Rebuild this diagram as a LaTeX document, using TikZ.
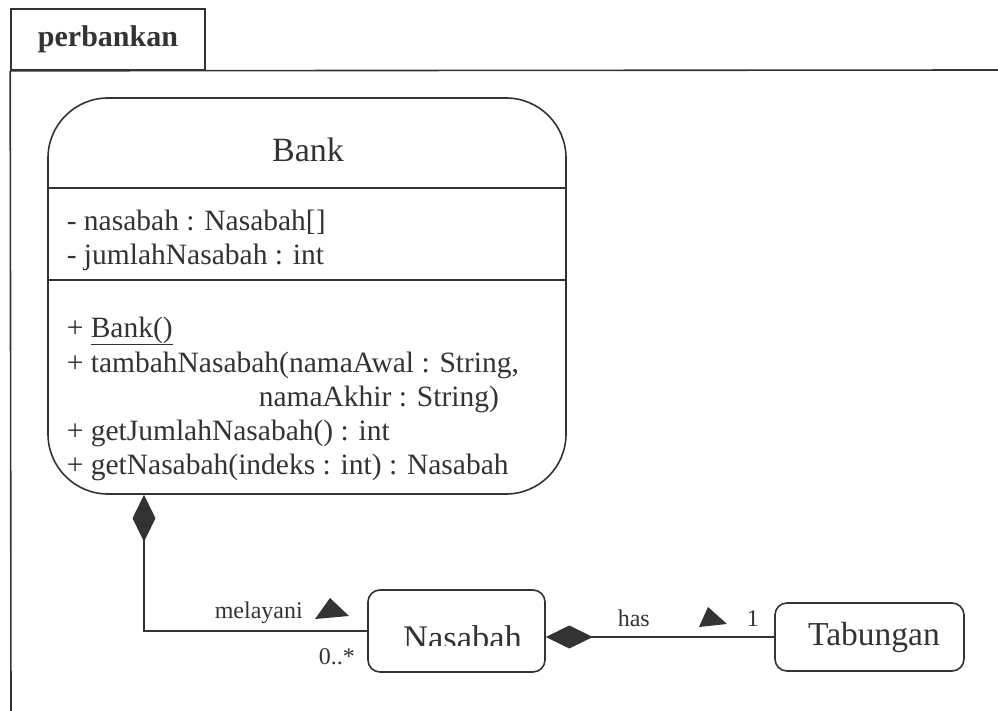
\documentclass[tikz,border=0pt]{standalone}
\usepackage{fontspec}
\setmainfont{Liberation Serif}
\usetikzlibrary{arrows.meta}
\definecolor{ink}{HTML}{333333}
\begin{document}
\begin{tikzpicture}[x=1pt,y=-1pt,line width=1.6pt,
  lbl/.style={inner sep=0pt,anchor=base west,text=ink,font=\fontsize{29.5}{33}\selectfont},
  small/.style={inner sep=0pt,anchor=base west,text=ink,font=\fontsize{24}{28}\selectfont},
  box/.style={draw=ink,line width=1.6pt,rounded corners=12pt,inner sep=0pt},
  comp/.style={{Diamond[length=47pt,width=23pt,fill=ink]}-, draw=ink, line width=1.6pt},
  dirtri/.style={fill=ink,draw=none}]
\useasboundingbox (0,0) rectangle (998,711);
% package frame
\node[draw=ink,line width=1.6pt,minimum width=194pt,minimum height=61pt,inner sep=0pt,
      text=ink,font=\bfseries\fontsize{30}{34}\selectfont] (pkg) at (108,39.5) {perbankan};
\draw[draw=ink] (pkg.south west) -- (11,711);
\draw[draw=ink] (pkg.south west) -- (998,70);
% Bank class
\node[draw=ink,line width=1.6pt,rounded corners=60pt,minimum width=518pt,minimum height=396pt,inner sep=0pt] (bank) at (307,296) {};
\node[inner sep=0pt,anchor=base,text=ink,font=\fontsize{34}{38}\selectfont] (bankname) at (308,162) {Bank};
\coordinate (d1) at (0,188);
\coordinate (d2) at (0,280);
\draw[draw=ink] (bank.west |- d1) -- (bank.east |- d1);
\draw[draw=ink] (bank.west |- d2) -- (bank.east |- d2);
\node[lbl] (a1) at (66,231) {- nasabah : Nasabah[]};
\node[lbl] (a2) at (66,265) {- jumlahNasabah : int};
\node[lbl] (m1) at (66,337) {+ \underline{Bank()}};
\node[lbl] (m2) at (66,372) {+ tambahNasabah(namaAwal : String,};
\node[lbl] (m2b) at (258,406) {namaAkhir : String)};
\node[lbl] (m3) at (66,440) {+ getJumlahNasabah() : int};
\node[lbl] (m4) at (66,474) {+ getNasabah(indeks : int) : Nasabah};
% Nasabah class
\node[box,minimum width=177pt,minimum height=82pt] (nas) at (456.5,631) {};
\begin{scope}
  \clip (368,590) rectangle (545,645.5);
  \node[inner sep=0pt,anchor=base,text=ink,font=\fontsize{34.5}{38}\selectfont] (nasname) at (462.5,649) {Nasabah};
\end{scope}
% Tabungan class
\node[box,minimum width=189pt,minimum height=68pt] (tab) at (869.5,637) {};
\node[inner sep=0pt,anchor=base,text=ink,font=\fontsize{33.5}{38}\selectfont] (tabname) at (874,645) {Tabungan};
% composition Bank -> Nasabah
\coordinate (cx) at (144,0);
\draw[comp] (bank.south -| cx) |- (nas.west);
\node[small] (melayani) at (214,618) {melayani};
\fill[dirtri] (315,619) -- (330,598) -- (349,616) -- cycle;
\node[small] (mult1) at (318,664) {0..*};
% composition Nasabah -> Tabungan
\draw[comp] (tab.west -| nas.east) -- (tab.west);
\node[small] (has) at (617,626) {has};
\fill[dirtri] (699,627) -- (708,607) -- (727,624) -- cycle;
\node[small] (mult2) at (746,626) {1};
\end{tikzpicture}
\end{document}
